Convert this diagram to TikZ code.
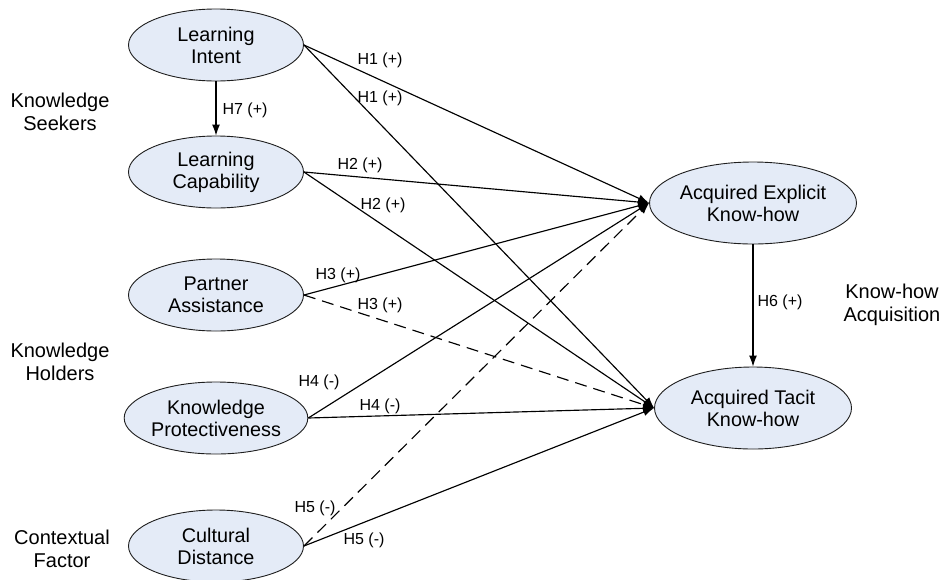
\documentclass[tikz,border=0pt]{standalone}
\usepackage{fontspec}
\setmainfont{Liberation Sans}
\usetikzlibrary{shapes.geometric,arrows.meta}
\definecolor{nodefill}{RGB}{228,235,247}
\definecolor{edgegray}{RGB}{30,30,30}
\begin{document}
\begin{tikzpicture}[x=1pt,y=-1pt,
  construct/.style={ellipse,draw=edgegray,line width=0.9pt,fill=nodefill,inner sep=0pt,
    minimum width=175pt,minimum height=72pt,align=center,
    font=\fontsize{19.8}{22}\selectfont},
  outcome/.style={construct,minimum width=197pt,minimum height=82pt},
  sidelabel/.style={align=center,font=\fontsize{20}{23}\selectfont,inner sep=0pt},
  hlabel/.style={font=\fontsize{16}{18}\selectfont,inner sep=0pt},
  link/.style={draw=black,line width=1.15pt,-{Latex[length=11pt,width=8pt]}},
  dlink/.style={link,dash pattern=on 12pt off 7pt}
]
\useasboundingbox (0,0) rectangle (944,579);

% constructs
\node[construct] (li) at (216,45) {Learning\\Intent};
\node[construct] (lc) at (216,172) {Learning\\Capability};
\node[construct] (pa) at (216,295) {Partner\\Assistance};
\node[construct] (kp) at (216,418) {Knowledge\\Protectiveness};
\node[construct] (cd) at (216,546) {Cultural\\Distance};
\node[outcome] (ex) at (753,203) {Acquired Explicit\\Know-how};
\node[outcome] (ta) at (753,408) {Acquired Tacit\\Know-how};

% side labels
\node[sidelabel] (seek) at (60,112) {Knowledge\\Seekers};
\node[sidelabel] (hold) at (60,362) {Knowledge\\Holders};
\node[sidelabel] (ctx) at (62,549) {Contextual\\Factor};
\node[sidelabel] (acq) at (892,305) {Know-how\\Acquisition};

% connectors
\draw[link] (li.south) -- (lc.north);
\draw[link] (ex.south) -- (ta.north);
\draw[link] (li.east) -- (ex.west);
\draw[link] (li.east) -- (ta.west);
\draw[link] (lc.east) -- (ex.west);
\draw[link] (lc.east) -- (ta.west);
\draw[link] (pa.east) -- (ex.west);
\draw[dlink] (pa.east) -- (ta.west);
\draw[link] (kp.east) -- (ex.west);
\draw[link] (kp.east) -- (ta.west);
\draw[dlink] (cd.east) -- (ex.west);
\draw[link] (cd.east) -- (ta.west);

% hypothesis labels
\node[hlabel] (h7) at (245,110) {H7 (+)};
\node[hlabel] (h6) at (780,302) {H6 (+)};
\node[hlabel] (h1a) at (380,60) {H1 (+)};
\node[hlabel] (h1b) at (380,98) {H1 (+)};
\node[hlabel] (h2a) at (360,165) {H2 (+)};
\node[hlabel] (h2b) at (383,205) {H2 (+)};
\node[hlabel] (h3a) at (338,275) {H3 (+)};
\node[hlabel] (h3b) at (380,305) {H3 (+)};
\node[hlabel] (h4a) at (319,382) {H4 (-)};
\node[hlabel] (h4b) at (380,406) {H4 (-)};
\node[hlabel] (h5a) at (315,508) {H5 (-)};
\node[hlabel] (h5b) at (364,540) {H5 (-)};
\end{tikzpicture}
\end{document}
